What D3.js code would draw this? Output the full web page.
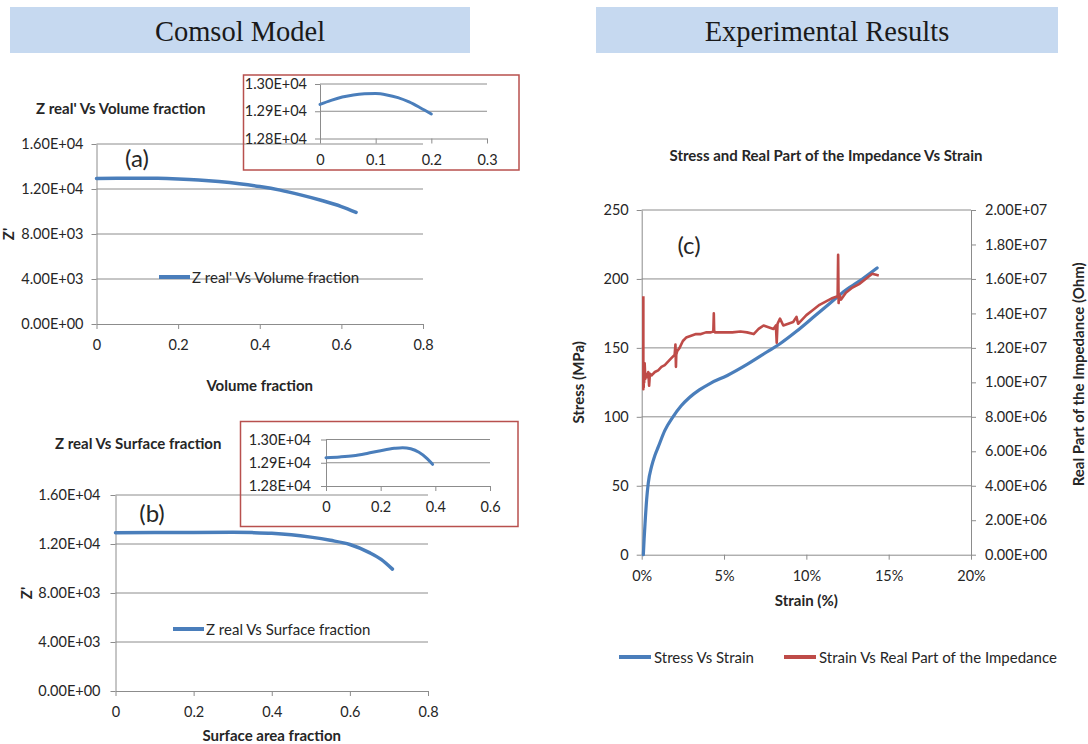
<!DOCTYPE html>
<html><head><meta charset="utf-8">
<script src="https://cdn.jsdelivr.net/npm/d3@7"></script>
<style>body{margin:0;background:#fff}</style>
</head><body>
<svg id="c" width="1088" height="744"></svg>
<script>
// ---------- DATA ----------
// (a) Z real' vs Volume fraction
const volFrac = [0, 0.05, 0.1, 0.15, 0.2, 0.25, 0.3, 0.35, 0.4, 0.45, 0.5, 0.55, 0.6, 0.636];
const zVol    = [12925, 12950, 12960, 12945, 12890, 12800, 12660, 12470, 12220, 11900, 11480, 11000, 10440, 9920];
// (a) inset
const volFracZoom = [0, 0.02, 0.04, 0.06, 0.08, 0.10, 0.12, 0.14, 0.16, 0.18, 0.20];
const zVolZoom    = [12925, 12940, 12952, 12960, 12964, 12965, 12960, 12950, 12934, 12913, 12890];
// (b) Z real vs Surface fraction
const surfFrac = [0, 0.1, 0.2, 0.3, 0.35, 0.4, 0.45, 0.5, 0.55, 0.6, 0.65, 0.68, 0.709];
const zSurf    = [12925, 12930, 12945, 12950, 12930, 12880, 12760, 12560, 12300, 11960, 11300, 10750, 9950];
// (b) inset
const surfFracZoom = [0, 0.05, 0.1, 0.15, 0.2, 0.25, 0.28, 0.31, 0.34, 0.37, 0.39];
const zSurfZoom    = [12922, 12925, 12930, 12940, 12952, 12962, 12965, 12960, 12945, 12918, 12893];
// (c) Stress vs Strain
const strainStress = [0.1, 0.15, 0.2, 0.3, 0.4, 0.6, 0.8, 1.0, 1.4, 1.9, 2.4, 2.9, 3.5, 4.2, 5.2, 6.4, 7.6, 8.4, 9.4, 10.4, 11.4, 12.4, 13.4, 14.3];
const stress       = [0, 12, 22, 40, 52, 64, 72, 78, 90, 100, 108, 114, 119.5, 124.5, 130, 138, 147, 153, 162, 172, 182, 192, 200, 208];
// (c) Strain vs Real part of the impedance (Ohm)
const strainImp = [0.10,0.10,0.11,0.12,0.13,0.15,0.18,0.22,0.26,0.30,0.35,0.40,0.45,0.50,0.60,0.80,1.00,1.20,1.40,1.60,1.80,2.00,2.05,2.08,2.10,2.15,2.30,2.50,2.70,3.00,3.30,3.60,3.90,4.20,4.35,4.38,4.40,4.45,4.60,5.00,5.50,6.00,6.40,6.80,7.10,7.40,7.70,8.00,8.15,8.20,8.25,8.40,8.60,8.90,9.20,9.40,9.50,9.70,10.00,10.40,10.80,11.20,11.60,11.90,11.93,11.96,12.00,12.10,12.40,12.80,13.20,13.60,14.00,14.40];
const impedance = [15.0e6,9.6e6,11.0e6,9.7e6,10.8e6,10.0e6,11.1e6,10.2e6,10.5e6,10.4e6,10.3e6,10.6e6,9.8e6,10.5e6,10.4e6,10.6e6,10.7e6,10.9e6,11.0e6,11.2e6,11.4e6,11.6e6,12.2e6,10.9e6,11.6e6,11.8e6,12.0e6,12.4e6,12.6e6,12.7e6,12.8e6,12.8e6,12.9e6,12.9e6,12.95e6,14.0e6,13.0e6,12.9e6,12.9e6,12.9e6,12.9e6,12.95e6,12.9e6,12.8e6,13.1e6,13.3e6,13.2e6,13.1e6,13.3e6,12.3e6,13.4e6,13.7e6,13.3e6,13.4e6,13.5e6,13.8e6,13.4e6,13.6e6,13.9e6,14.2e6,14.5e6,14.7e6,14.9e6,15.0e6,17.4e6,14.6e6,15.1e6,14.8e6,15.2e6,15.5e6,15.7e6,16.0e6,16.3e6,16.2e6];

// tick values
const fracTicks = [0, 0.2, 0.4, 0.6, 0.8];
const zTicks = [0, 4000, 8000, 12000, 16000];
const zoomZTicks = [12800, 12900, 13000];
const volZoomTicks = [0, 0.1, 0.2, 0.3];
const surfZoomTicks = [0, 0.2, 0.4, 0.6];
const strainTicks = [0, 5, 10, 15, 20];
const stressTicks = [0, 50, 100, 150, 200, 250];
const impTicks = [0, 2e6, 4e6, 6e6, 8e6, 10e6, 12e6, 14e6, 16e6, 18e6, 20e6];

// ---------- STYLE ----------
const FONT = "Lato, 'Open Sans', Arial, sans-serif";
const GRID = "#8c8c8c";
const TXT = "#262626";
const BLUE = "#4a7ebb";
const RED = "#be4b48";
const TICK_FS = 14.5;
const BOLD_FS = 15;
const LEG_FS = 15;
const svg = d3.select("#c");

function sci(d){
  if (d === 0) return "0.00E+00";
  const s = d.toExponential(2).split("e");
  const e = +s[1];
  return s[0] + "E" + (e < 0 ? "-" : "+") + String(Math.abs(e)).padStart(2, "0");
}
const plain = d => String(+d.toFixed(2));

function styleAxis(g, fs){
  g.selectAll(".domain").attr("stroke", GRID).attr("stroke-width", 1);
  g.selectAll(".tick line").attr("stroke", GRID);
  g.selectAll("text").attr("fill", TXT).attr("font-family", FONT).attr("font-size", fs);
}
function text(x, y, s, o = {}){
  const t = svg.append("text").attr("x", x).attr("y", y).text(s)
    .attr("font-family", o.family || FONT).attr("font-size", o.size || 14)
    .attr("font-weight", o.weight || "normal").attr("fill", o.fill || TXT)
    .attr("text-anchor", o.anchor || "start").attr("dominant-baseline", "central");
  if (o.rotate) t.attr("transform", `rotate(${o.rotate},${x},${y})`);
  return t;
}

// ---------- HEADERS ----------
function header(x, w, label){
  svg.append("rect").attr("x", x).attr("y", 7).attr("width", w).attr("height", 46).attr("fill", "#c6d9f0");
  svg.append("text").attr("x", x + w / 2).attr("y", 41).attr("text-anchor", "middle")
    .attr("font-family", "'Liberation Serif', 'Times New Roman', serif").attr("font-size", 28.5)
    .attr("fill", "#1a1a1a").text(label);
}
header(10, 460, "Comsol Model");
header(596, 462, "Experimental Results");

// ---------- MAIN PANELS (a), (b) ----------
function mainPanel(o){
  const x = d3.scaleLinear().domain([0, 0.8]).range([o.left, o.right]);
  const y = d3.scaleLinear().domain([0, 16000]).range([o.bottom, o.top]);
  svg.append("g").selectAll("line").data(zTicks.filter(d => d > 0)).join("line")
    .attr("x1", o.left).attr("x2", o.right).attr("y1", d => y(d)).attr("y2", d => y(d))
    .attr("stroke", GRID);
  const gx = svg.append("g").attr("transform", `translate(0,${o.bottom})`)
    .call(d3.axisBottom(x).tickValues(fracTicks).tickFormat(plain).tickSize(5).tickSizeOuter(0).tickPadding(11));
  styleAxis(gx, TICK_FS);
  const gy = svg.append("g").attr("transform", `translate(${o.left},0)`)
    .call(d3.axisLeft(y).tickValues(zTicks).tickFormat(sci).tickSize(5).tickSizeOuter(0).tickPadding(o.pad));
  styleAxis(gy, TICK_FS);
  svg.append("path").datum(o.xs.map((v, i) => [v, o.ys[i]]))
    .attr("d", d3.line().x(d => x(d[0])).y(d => y(d[1])).curve(d3.curveMonotoneX))
    .attr("fill", "none").attr("stroke", BLUE).attr("stroke-width", 3.5).attr("stroke-linecap", "round");
  text(o.titleX, o.titleY, o.title, {weight: "bold", size: BOLD_FS});
  text((o.left + o.right) / 2, o.xTitleY, o.xTitle, {weight: "bold", size: BOLD_FS, anchor: "middle"});
  text(o.zX, (o.top + o.bottom) / 2, "Z'", {weight: "bold", size: BOLD_FS, anchor: "middle", rotate: -90});
  text(o.tagX, o.tagY, o.tag, {size: 24, anchor: "middle"});
  svg.append("line").attr("x1", o.legX).attr("x2", o.legX + 31).attr("y1", o.legY).attr("y2", o.legY)
    .attr("stroke", BLUE).attr("stroke-width", 4);
  text(o.legX + 33, o.legY, o.legText, {size: LEG_FS});
}

function insetPanel(o){
  svg.append("rect").attr("x", o.bx0).attr("y", o.by0).attr("width", o.bx1 - o.bx0).attr("height", o.by1 - o.by0)
    .attr("fill", "none").attr("stroke", "#b8504e").attr("stroke-width", 1.5);
  const x = d3.scaleLinear().domain(o.xDomain).range([o.ax0, o.ax1]);
  const y = d3.scaleLinear().domain([12800, 13000]).range([o.yBot, o.yTop]);
  svg.append("g").selectAll("line").data([12900, 13000]).join("line")
    .attr("x1", o.ax0).attr("x2", o.ax1).attr("y1", d => y(d)).attr("y2", d => y(d)).attr("stroke", GRID);
  const gx = svg.append("g").attr("transform", `translate(0,${o.yBot})`)
    .call(d3.axisBottom(x).tickValues(o.xTicks).tickFormat(plain).tickSize(5).tickSizeOuter(0).tickPadding(11));
  styleAxis(gx, TICK_FS);
  const gy = svg.append("g").attr("transform", `translate(${o.ax0},0)`)
    .call(d3.axisLeft(y).tickValues(zoomZTicks).tickFormat(sci).tickSize(5).tickSizeOuter(0).tickPadding(o.pad));
  styleAxis(gy, TICK_FS);
  svg.append("path").datum(o.xs.map((v, i) => [v, o.ys[i]]))
    .attr("d", d3.line().x(d => x(d[0])).y(d => y(d[1])).curve(d3.curveMonotoneX))
    .attr("fill", "none").attr("stroke", BLUE).attr("stroke-width", 3).attr("stroke-linecap", "round");
}

mainPanel({left: 96.5, right: 423, top: 144, bottom: 324, pad: 8, xs: volFrac, ys: zVol,
  title: "Z real' Vs Volume fraction", titleX: 36, titleY: 108, xTitle: "Volume fraction", xTitleY: 385,
  zX: 8, tag: "(a)", tagX: 137, tagY: 157, legX: 159, legY: 277, legText: "Z real' Vs Volume fraction"});
insetPanel({bx0: 243.5, bx1: 519, by0: 75, by1: 170, ax0: 320, ax1: 487, yTop: 84, yBot: 138.5, pad: 8,
  xDomain: [0, 0.3], xTicks: volZoomTicks, xs: volFracZoom, ys: zVolZoom});

mainPanel({left: 115.5, right: 428, top: 495, bottom: 691, pad: 10, xs: surfFrac, ys: zSurf,
  title: "Z real Vs Surface fraction", titleX: 55, titleY: 443, xTitle: "Surface area fraction", xTitleY: 735,
  zX: 26, tag: "(b)", tagX: 152, tagY: 512, legX: 173, legY: 629, legText: "Z real Vs Surface fraction"});
insetPanel({bx0: 240.5, bx1: 518, by0: 421.5, by1: 526.5, ax0: 326, ax1: 490, yTop: 439.5, yBot: 486, pad: 10,
  xDomain: [0, 0.6], xTicks: surfZoomTicks, xs: surfFracZoom, ys: zSurfZoom});

// ---------- PANEL (c) ----------
(function(){
  const L = 641.7, R = 971, T = 210, B = 554.7;
  const x = d3.scaleLinear().domain([0, 20]).range([L, R]);
  const yS = d3.scaleLinear().domain([0, 250]).range([B, T]);
  const yI = d3.scaleLinear().domain([0, 2e7]).range([B, T]);
  svg.append("g").selectAll("line").data(stressTicks.filter(d => d > 0)).join("line")
    .attr("x1", L).attr("x2", R).attr("y1", d => yS(d)).attr("y2", d => yS(d)).attr("stroke", GRID);
  const gx = svg.append("g").attr("transform", `translate(0,${B})`)
    .call(d3.axisBottom(x).tickValues(strainTicks).tickFormat(d => d + "%").tickSize(5).tickSizeOuter(0).tickPadding(11));
  styleAxis(gx, TICK_FS);
  const gl = svg.append("g").attr("transform", `translate(${L},0)`)
    .call(d3.axisLeft(yS).tickValues(stressTicks).tickSize(5).tickSizeOuter(0).tickPadding(8));
  styleAxis(gl, TICK_FS);
  const gr = svg.append("g").attr("transform", `translate(${R},0)`)
    .call(d3.axisRight(yI).tickValues(impTicks).tickFormat(sci).tickSize(5).tickSizeOuter(0).tickPadding(9));
  styleAxis(gr, TICK_FS);

  svg.append("path").datum(strainStress.map((v, i) => [v, stress[i]]))
    .attr("d", d3.line().x(d => x(d[0])).y(d => yS(d[1])).curve(d3.curveMonotoneX))
    .attr("fill", "none").attr("stroke", BLUE).attr("stroke-width", 3.2).attr("stroke-linecap", "round");
  svg.append("path").datum(strainImp.map((v, i) => [v, impedance[i]]))
    .attr("d", d3.line().x(d => x(d[0])).y(d => yI(d[1])))
    .attr("fill", "none").attr("stroke", RED).attr("stroke-width", 2.6).attr("stroke-linejoin", "round");

  text(826, 155, "Stress and Real Part of the Impedance Vs Strain", {weight: "bold", size: BOLD_FS, anchor: "middle"});
  text(689, 244, "(c)", {size: 24, anchor: "middle"});
  text((L + R) / 2, 600, "Strain (%)", {weight: "bold", size: BOLD_FS, anchor: "middle"});
  text(578, (T + B) / 2, "Stress (MPa)", {weight: "bold", size: BOLD_FS, anchor: "middle", rotate: -90});
  text(1078, (T + B) / 2 - 8, "Real Part of the Impedance  (Ohm)", {weight: "bold", size: BOLD_FS, anchor: "middle", rotate: -90});

  svg.append("line").attr("x1", 619).attr("x2", 651).attr("y1", 657).attr("y2", 657).attr("stroke", BLUE).attr("stroke-width", 4);
  text(654, 657, "Stress Vs Strain", {size: LEG_FS});
  svg.append("line").attr("x1", 784).attr("x2", 816).attr("y1", 657).attr("y2", 657).attr("stroke", RED).attr("stroke-width", 4);
  text(819, 657, "Strain Vs Real Part of the Impedance", {size: LEG_FS});
})();
</script>
</body></html>
